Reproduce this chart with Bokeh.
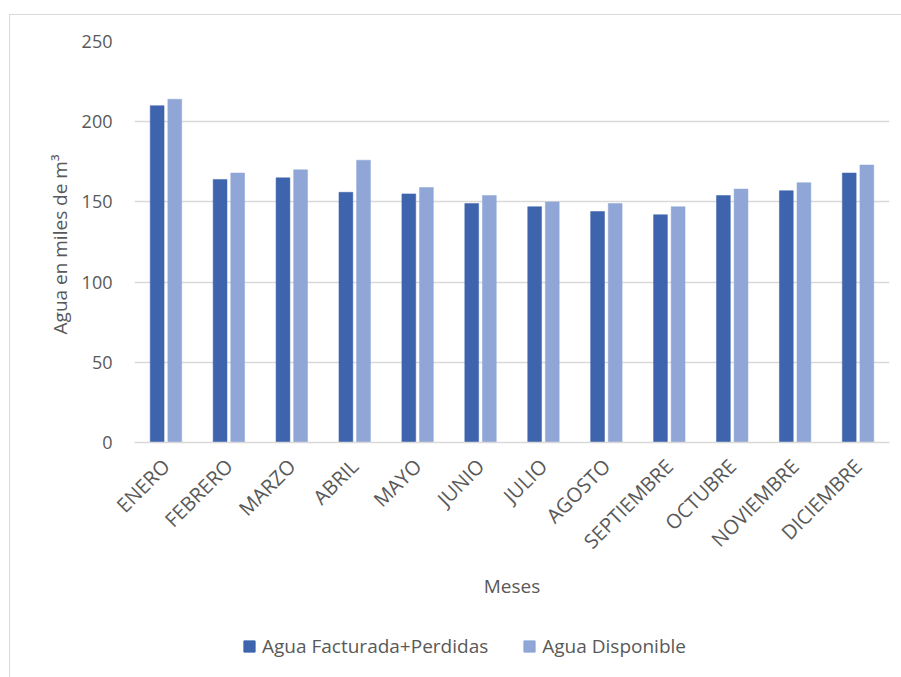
import math
from bokeh.plotting import figure
from bokeh.layouts import column
from bokeh.models import (ColumnDataSource, FactorRange, Range1d, FixedTicker,
                          Legend, LegendItem)
from bokeh.transform import dodge
from bokeh.embed import file_html
from bokeh.resources import INLINE

# Monthly water volumes, thousands of m³
meses = ["ENERO", "FEBRERO", "MARZO", "ABRIL", "MAYO", "JUNIO", "JULIO",
         "AGOSTO", "SEPTIEMBRE", "OCTUBRE", "NOVIEMBRE", "DICIEMBRE"]
facturada_perdidas = [210, 164, 165, 156, 155, 149, 147, 144, 142, 154, 157, 168]
disponible = [214, 168, 170, 176, 159, 154, 150, 149, 147, 158, 162, 173]
y_ticks = [0, 50, 100, 150, 200, 250]

serie_1 = "Agua Facturada+Perdidas"
serie_2 = "Agua Disponible"

DARK = "#3E64AD"
LIGHT = "#8FA6D6"
TEXT = "#595959"
GRID = "#D9D9D9"
FONT = "Open Sans"

source = ColumnDataSource(data=dict(mes=meses, fp=facturada_perdidas, disp=disponible))

# main chart: bars, axes and grid, inside a thin grey border
p = figure(width=892, height=605, output_backend="svg", toolbar_location=None,
           x_range=FactorRange(*meses), y_range=Range1d(0, 250),
           min_border_left=124, min_border_right=13, min_border_top=26,
           min_border_bottom=178, margin=(14, 0, 0, 9),
           styles={"border-left": f"1px solid {GRID}",
                   "border-top": f"1px solid {GRID}"})
p.outline_line_color = None
p.background_fill_color = "white"
p.border_fill_color = "white"

p.vbar(x=dodge("mes", -0.14, range=p.x_range), top="fp", width=0.22,
       source=source, fill_color=DARK, line_color=DARK, line_width=0.5)
p.vbar(x=dodge("mes", 0.14, range=p.x_range), top="disp", width=0.22,
       source=source, fill_color=LIGHT, line_color=LIGHT, line_width=0.5)

p.xgrid.grid_line_color = None
p.ygrid.grid_line_color = GRID
p.ygrid.grid_line_width = 1.5

p.yaxis.ticker = FixedTicker(ticks=y_ticks)
p.yaxis.axis_line_color = None
p.yaxis.major_tick_line_color = None
p.yaxis.minor_tick_line_color = None
p.yaxis.major_label_standoff = 16
p.yaxis.major_label_text_font = FONT
p.yaxis.major_label_text_font_size = "18px"
p.yaxis.major_label_text_color = TEXT
p.yaxis.axis_label = "Agua en miles de  m³"
p.yaxis.axis_label_text_font = FONT
p.yaxis.axis_label_text_font_size = "19px"
p.yaxis.axis_label_text_font_style = "normal"
p.yaxis.axis_label_text_color = TEXT
p.yaxis.axis_label_standoff = 6

p.xaxis.axis_line_color = GRID
p.xaxis.axis_line_width = 1.5
p.xaxis.major_tick_line_color = None
p.xaxis.minor_tick_line_color = None
p.xaxis.major_label_orientation = math.pi / 4
p.xaxis.major_label_standoff = 14
p.xaxis.major_label_text_font = FONT
p.xaxis.major_label_text_font_size = "20px"
p.xaxis.major_label_text_color = TEXT
p.xaxis.axis_label = "Meses"
p.xaxis.axis_label_text_font = FONT
p.xaxis.axis_label_text_font_size = "19px"
p.xaxis.axis_label_text_font_style = "normal"
p.xaxis.axis_label_text_color = TEXT
p.xaxis.axis_label_standoff = 6

# legend strip under the chart; its key renderers sit below the visible y span
lg = figure(width=892, height=58, output_backend="svg", toolbar_location=None,
            x_range=FactorRange(*meses), y_range=Range1d(1000, 1001),
            x_axis_location=None, y_axis_location=None, min_border=0,
            margin=(0, 0, 0, 9), styles={"border-left": f"1px solid {GRID}"})
lg.outline_line_color = None
lg.xgrid.grid_line_color = None
lg.ygrid.grid_line_color = None
k1 = lg.vbar(x="mes", top="fp", width=0.22, source=source,
             fill_color=DARK, line_color=DARK)
k2 = lg.vbar(x="mes", top="disp", width=0.22, source=source,
             fill_color=LIGHT, line_color=LIGHT)
legend = Legend(items=[LegendItem(label=serie_1, renderers=[k1]),
                       LegendItem(label=serie_2, renderers=[k2])],
                orientation="horizontal", location=(108, 18),
                label_text_font=FONT, label_text_font_size="19px",
                label_text_color=TEXT, glyph_width=14, glyph_height=14,
                label_standoff=6, spacing=34, border_line_color=None,
                background_fill_alpha=0, margin=0, padding=0)
lg.add_layout(legend)

layout = column(p, lg, spacing=0)
open("out.html", "w").write(file_html(layout, INLINE))
